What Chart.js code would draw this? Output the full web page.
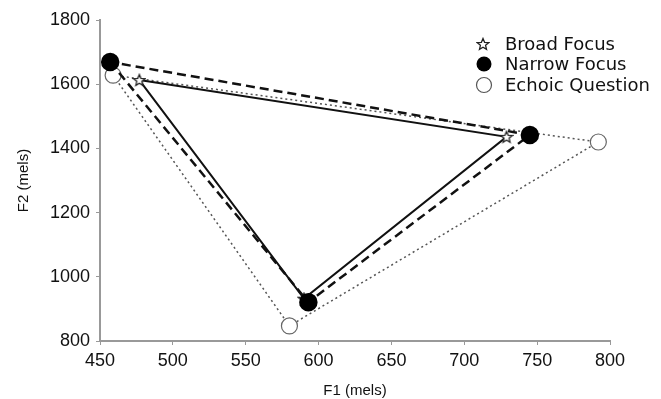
<!DOCTYPE html>
<html>
<head>
<meta charset="utf-8">
<script src="https://cdn.jsdelivr.net/npm/chart.js@4"></script>
<style>
  html, body { margin: 0; padding: 0; background: #fff; }
  #wrap { width: 661px; height: 399px; }
</style>
</head>
<body>
<div id="wrap"><canvas id="grafico" width="661" height="399"></canvas></div>
<script>
const series = ["Broad Focus", "Narrow Focus", "Echoic Question"];
// triangle vertices (F1, F2)
const broadF1 = [477, 590, 729];
const broadF2 = [1613, 932, 1436];
const narrowF1 = [457, 593, 745];
const narrowF2 = [1669, 921, 1442];
const echoicF1 = [459, 580, 792];
const echoicF2 = [1628, 847, 1420];
const xTicks = [450, 500, 550, 600, 650, 700, 750, 800];
const yTicks = [800, 1000, 1200, 1400, 1600, 1800];

function star(size, fill) {
  const c = document.createElement("canvas");
  c.width = size; c.height = size;
  const g = c.getContext("2d");
  const r = size / 2 - 1, ri = r * 0.45, cx = size / 2, cy = size / 2 + 0.5;
  g.beginPath();
  for (let i = 0; i < 10; i++) {
    const rr = i % 2 ? ri : r;
    const a = -Math.PI / 2 + i * Math.PI / 5;
    g.lineTo(cx + rr * Math.cos(a), cy + rr * Math.sin(a));
  }
  g.closePath();
  g.fillStyle = fill;
  g.fill();
  g.strokeStyle = "#222";
  g.lineWidth = 1.3;
  g.stroke();
  return c;
}
const starImg = star(14, "#fff");

function closed(f1, f2) {
  const pts = f1.map((x, i) => ({ x: x, y: f2[i] }));
  pts.push(pts[0]);
  return pts;
}

const legendPlugin = {
  id: "legenda",
  afterDraw(chart) {
    const ctx = chart.ctx;
    ctx.save();
    ctx.font = "18px 'DejaVu Sans'";
    ctx.textBaseline = "middle";
    const rows = [44, 64, 85];
    ctx.drawImage(starImg, 483 - 7, rows[0] - 7);
    ctx.beginPath(); ctx.arc(484, rows[1], 7.5, 0, Math.PI * 2);
    ctx.fillStyle = "#000"; ctx.fill();
    ctx.beginPath(); ctx.arc(484, rows[2], 7.5, 0, Math.PI * 2);
    ctx.fillStyle = "#fff"; ctx.fill();
    ctx.strokeStyle = "#555"; ctx.lineWidth = 1.2; ctx.stroke();
    ctx.fillStyle = "#111";
    series.forEach((s, i) => ctx.fillText(s, 505, rows[i] + 1));
    ctx.restore();
  }
};

const tickFont = { family: "'Liberation Sans'", size: 18 };
const titleFont = { family: "'Liberation Sans'", size: 15 };

new Chart(document.getElementById("grafico"), {
  type: "scatter",
  data: {
    datasets: [
      {
        label: series[1], data: closed(narrowF1, narrowF2), order: 1,
        showLine: true, borderColor: "#111", borderWidth: 2.5, borderDash: [9, 5],
        pointRadius: [8, 8, 8, 0], pointBackgroundColor: "#000", pointBorderColor: "#000"
      },
      {
        label: series[0], data: closed(broadF1, broadF2), order: 2,
        showLine: true, borderColor: "#111", borderWidth: 2,
        pointStyle: starImg, pointRadius: [7, 7, 7, 0]
      },
      {
        label: series[2], data: closed(echoicF1, echoicF2), order: 3,
        showLine: true, borderColor: "#555", borderWidth: 1.5, borderDash: [2, 3],
        pointRadius: [8, 8, 8, 0], pointBackgroundColor: "#fff", pointBorderColor: "#666", pointBorderWidth: 1.2
      }
    ]
  },
  options: {
    responsive: false,
    animation: false,
    layout: { padding: { left: 0, right: 51, top: 20, bottom: 0 } },
    plugins: { legend: { display: false }, tooltip: { enabled: false } },
    scales: {
      x: {
        type: "linear", min: 450, max: 800,
        afterBuildTicks: s => { s.ticks = xTicks.map(v => ({ value: v })); },
        afterFit: s => { s.height = 58; },
        border: { color: "#999", width: 2 },
        grid: { drawOnChartArea: false, tickLength: 4, color: "#999" },
        ticks: { color: "#111", font: tickFont, padding: 5, callback: v => String(v) },
        title: { display: true, text: "F1 (mels)", color: "#111", font: titleFont, padding: { top: 0, bottom: -1 } }
      },
      y: {
        type: "linear", min: 800, max: 1800,
        afterBuildTicks: s => { s.ticks = yTicks.map(v => ({ value: v })); },
        afterFit: s => { s.width = 100; },
        border: { color: "#999", width: 2 },
        grid: { drawOnChartArea: false, tickLength: 4, color: "#999" },
        ticks: { color: "#111", font: tickFont, padding: 6, callback: v => String(v) },
        title: { display: true, text: "F2 (mels)", color: "#111", font: titleFont, padding: { top: 15, bottom: 0 } }
      }
    }
  },
  plugins: [legendPlugin]
});
</script>
</body>
</html>
